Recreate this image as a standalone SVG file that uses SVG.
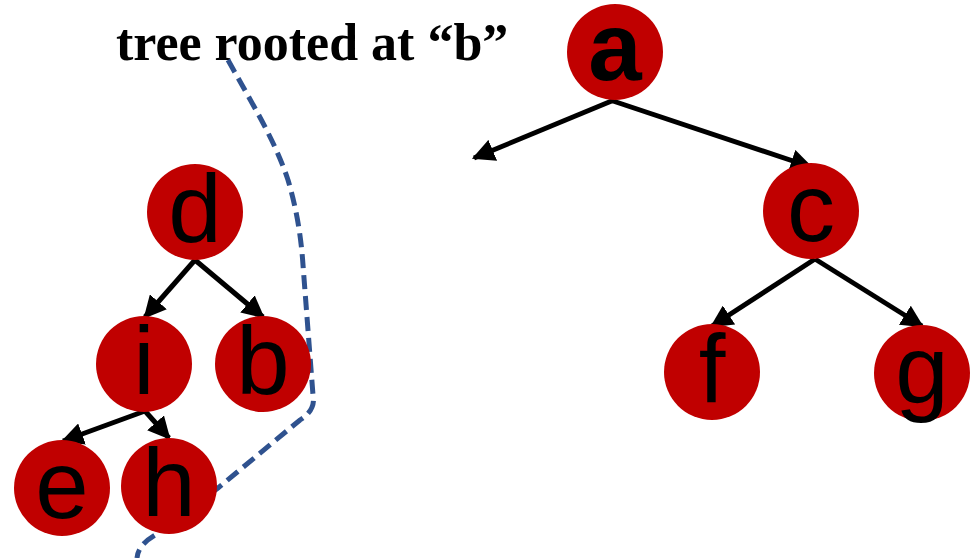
<svg xmlns="http://www.w3.org/2000/svg" width="970" height="558" viewBox="0 0 970 558">
<defs>
<marker id="ah" viewBox="0 0 10 10" refX="9" refY="5" markerWidth="4.5" markerHeight="4.5" orient="auto" markerUnits="strokeWidth">
<path d="M0,0 L10,5 L0,10 z" fill="#000"/>
</marker>
<style>
.n{fill:#C00000}
.t{font-family:"Liberation Sans",Arial,sans-serif;font-size:96px;fill:#000;text-anchor:middle}
.e{stroke:#000;stroke-width:5;fill:none;marker-end:url(#ah)}
</style>
</defs>
<rect width="970" height="558" fill="#fff"/>
<text x="116" y="60" font-family="'Liberation Serif','Times New Roman',serif" font-weight="bold" font-size="52">tree rooted at “b”</text>
<path d="M228,60 C250,100 275,140 288,180 Q300,220 303,265 L313,395 Q316,410 300,420 L218,488 L155,535 Q138,545 137,558" fill="none" stroke="#2F528F" stroke-width="5" stroke-dasharray="14,7"/>
<g id="connectors">
<line class="e" x1="614" y1="100" x2="474" y2="158"/>
<line class="e" x1="610" y1="100" x2="811" y2="167"/>
<line class="e" x1="195" y1="260" x2="145" y2="317"/>
<line class="e" x1="195" y1="260" x2="263" y2="317"/>
<line class="e" x1="145" y1="411" x2="63" y2="441"/>
<line class="e" x1="145" y1="411" x2="169" y2="438"/>
<line class="e" x1="815" y1="259" x2="712" y2="326"/>
<line class="e" x1="815" y1="259" x2="922" y2="326"/>
</g>
<g id="node-a"><circle class="n" cx="615" cy="52" r="48"/><text class="t" x="615" y="80" font-weight="bold" font-size="78">a</text></g>
<g id="node-c"><circle class="n" cx="811" cy="211" r="48"/><text class="t" x="811" y="241">c</text></g>
<g id="node-f"><circle class="n" cx="712" cy="372" r="48"/><text class="t" x="712" y="402">f</text></g>
<g id="node-g"><circle class="n" cx="922" cy="373" r="48"/><text class="t" x="922" y="403">g</text></g>
<g id="node-d"><circle class="n" cx="195" cy="212" r="48"/><text class="t" x="195" y="242">d</text></g>
<g id="node-i"><circle class="n" cx="144" cy="364" r="48"/><text class="t" x="144" y="394">i</text></g>
<g id="node-b"><circle class="n" cx="263" cy="364" r="48"/><text class="t" x="263" y="394">b</text></g>
<g id="node-e"><circle class="n" cx="62" cy="488" r="48"/><text class="t" x="62" y="518">e</text></g>
<g id="node-h"><circle class="n" cx="169" cy="486" r="48"/><text class="t" x="169" y="516">h</text></g>
</svg>
